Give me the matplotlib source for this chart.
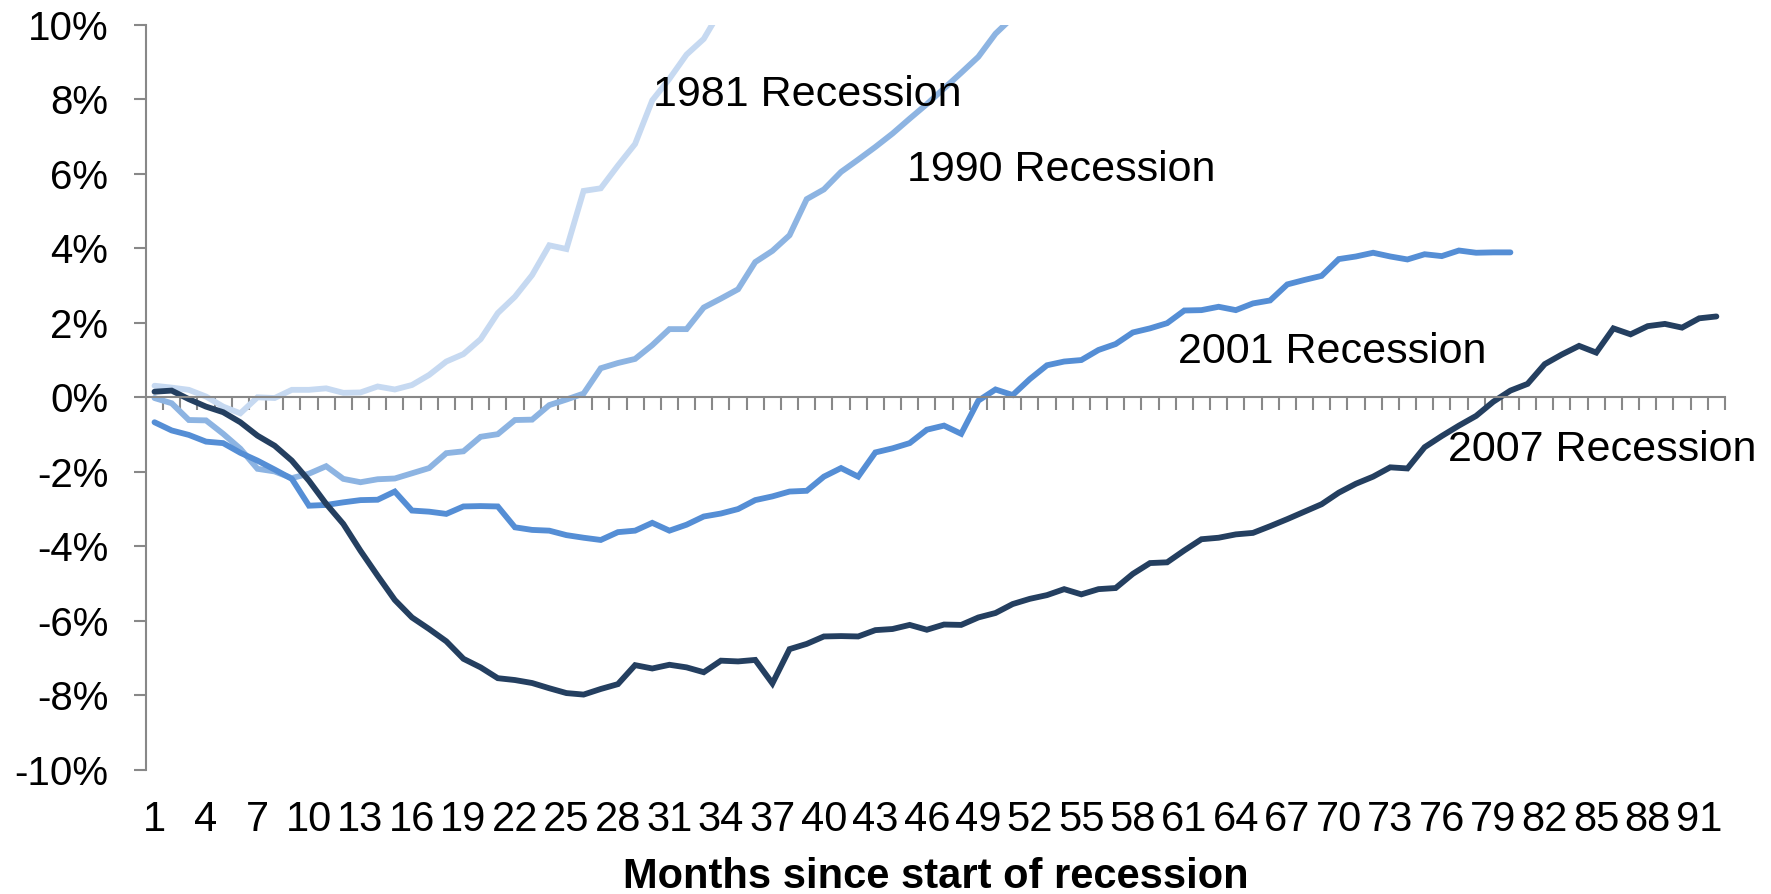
import numpy as np
import matplotlib
matplotlib.use("Agg")
import matplotlib.pyplot as plt

plt.rcParams['font.family'] = ['Liberation Sans', 'DejaVu Sans']

# cumulative change in employment (%) by month since start of recession
rec_1981 = [0.31, 0.26, 0.20, 0.02, -0.25, -0.43, 0.00, -0.02, 0.20, 0.20,
            0.24, 0.12, 0.13, 0.29, 0.21, 0.33, 0.60, 0.96, 1.16, 1.56,
            2.26, 2.70, 3.28, 4.08, 3.98, 5.54, 5.61, 6.22, 6.80, 7.97,
            8.55, 9.20, 9.62, 10.40]

rec_1990 = [-0.02, -0.16, -0.61, -0.62, -0.98, -1.38, -1.92, -1.99, -2.17, -2.05,
            -1.85, -2.19, -2.28, -2.20, -2.18, -2.04, -1.90, -1.50, -1.45, -1.06,
            -0.99, -0.61, -0.60, -0.21, -0.06, 0.10, 0.78, 0.92, 1.03, 1.40,
            1.83, 1.83, 2.41, 2.65, 2.90, 3.63, 3.93, 4.35, 5.32, 5.58,
            6.05, 6.38, 6.72, 7.08, 7.48, 7.87, 8.29, 8.71, 9.14, 9.76,
            10.20]

rec_2001 = [-0.67, -0.89, -1.01, -1.19, -1.23, -1.49, -1.70, -1.94, -2.19, -2.91,
            -2.89, -2.82, -2.76, -2.75, -2.53, -3.04, -3.07, -3.13, -2.93, -2.92,
            -2.93, -3.49, -3.56, -3.58, -3.70, -3.77, -3.83, -3.62, -3.58, -3.37,
            -3.58, -3.42, -3.20, -3.12, -3.00, -2.76, -2.66, -2.53, -2.51, -2.13,
            -1.90, -2.13, -1.48, -1.37, -1.23, -0.87, -0.76, -0.98, -0.09, 0.21,
            0.06, 0.49, 0.86, 0.96, 1.00, 1.27, 1.43, 1.74, 1.85, 1.99,
            2.33, 2.34, 2.43, 2.34, 2.52, 2.60, 3.03, 3.15, 3.26, 3.71,
            3.78, 3.88, 3.78, 3.70, 3.84, 3.79, 3.94, 3.88, 3.89, 3.89]

rec_2007 = [0.15, 0.18, -0.05, -0.25, -0.40, -0.67, -1.03, -1.30, -1.70, -2.24,
            -2.86, -3.40, -4.12, -4.79, -5.44, -5.91, -6.22, -6.55, -7.02, -7.25,
            -7.54, -7.59, -7.67, -7.81, -7.94, -7.98, -7.83, -7.70, -7.19, -7.28,
            -7.18, -7.25, -7.38, -7.07, -7.09, -7.05, -7.68, -6.76, -6.62, -6.42,
            -6.41, -6.42, -6.25, -6.22, -6.11, -6.24, -6.10, -6.11, -5.91, -5.79,
            -5.55, -5.41, -5.31, -5.15, -5.29, -5.15, -5.12, -4.74, -4.45, -4.43,
            -4.11, -3.81, -3.77, -3.68, -3.64, -3.46, -3.27, -3.07, -2.87, -2.56,
            -2.32, -2.13, -1.88, -1.91, -1.34, -1.04, -0.76, -0.50, -0.12, 0.18,
            0.36, 0.89, 1.15, 1.38, 1.20, 1.85, 1.69, 1.91, 1.97, 1.87,
            2.12, 2.17]

n_months = 92
label_months = [1, 4, 7, 10, 13, 16, 19, 22, 25, 28, 31, 34, 37, 40, 43, 46,
                49, 52, 55, 58, 61, 64, 67, 70, 73, 76, 79, 82, 85, 88, 91]
x_labels = ['1', '4', '7', '10', '13', '16', '19', '22', '25', '28', '31',
            '34', '37', '40', '43', '46', '49', '52', '55', '58', '61', '64',
            '67', '70', '73', '76', '79', '82', '85', '88', '91']
y_ticks = [-10, -8, -6, -4, -2, 0, 2, 4, 6, 8, 10]
y_labels = ['-10%', '-8%', '-6%', '-4%', '-2%', '0%', '2%', '4%', '6%', '8%', '10%']

series = [('1981 Recession', rec_1981, '#C6D9F1', (30.05, 8.12)),
          ('1990 Recession', rec_1990, '#8DB4E2', (44.85, 6.09)),
          ('2001 Recession', rec_2001, '#558ED5', (60.66, 1.22)),
          ('2007 Recession', rec_2007, '#243F60', (76.35, -1.41))]

gray = '#888888'

fig = plt.figure(figsize=(17.71, 8.94), dpi=100)
ax = fig.add_axes([0.0824, 0.1389, 0.8916, 0.8334])

for name, vals, col, pos in series:
    months = np.arange(1, len(vals) + 1)
    ax.plot(months, vals, color=col, lw=4.2, solid_joinstyle='miter',
            solid_capstyle='round')
    ax.text(pos[0], pos[1], name, fontsize=31, ha='left', va='center')

ax.set_xlim(0.5, n_months + 0.5)
ax.set_ylim(-10, 10)

ax.spines['top'].set_visible(False)
ax.spines['right'].set_visible(False)
ax.spines['bottom'].set_position(('data', 0))
ax.spines['bottom'].set_color(gray)
ax.spines['left'].set_color(gray)
ax.spines['bottom'].set_linewidth(1.5)
ax.spines['left'].set_linewidth(1.5)

# category boundary ticks on the zero line
ax.set_xticks(np.arange(0.5, n_months + 1, 1))
ax.set_xticklabels([])
ax.tick_params(axis='x', direction='out', length=9, width=1.5, color=gray)

ax.set_yticks(y_ticks, y_labels)
ax.tick_params(axis='y', direction='out', length=9, width=1.5, color=gray,
               labelsize=29, pad=18)

# month labels sit at the bottom of the plot
sec = ax.secondary_xaxis('bottom')
sec.set_xticks(label_months, x_labels)
sec.tick_params(length=0, labelsize=30, pad=22)
sec.spines['bottom'].set_visible(False)
sec.set_xlabel('Months since start of recession', fontsize=30,
               fontweight='bold', labelpad=12)

fig.savefig('out.png', dpi=100)
